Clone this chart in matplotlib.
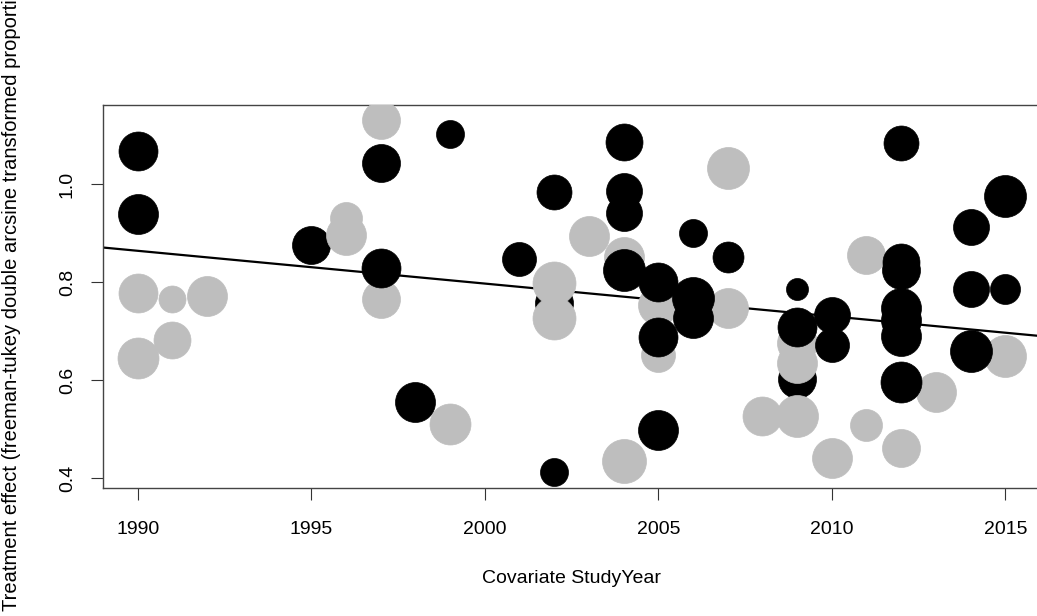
import numpy as np
import matplotlib
matplotlib.use('Agg')
import matplotlib.pyplot as plt

matplotlib.rc('font', family=['Liberation Sans', 'DejaVu Sans'])

# points listed in drawing order (later ones sit on top)
year = [2002, 2009, 1995,
        1990, 1990, 1991, 1991, 1992, 1996, 1996, 1997, 1997, 1999,
        2002, 2002, 2003, 2004, 2004, 2005, 2005, 2007, 2007, 2008,
        2009, 2009, 2009, 2010, 2011, 2011, 2012, 2013, 2015,
        1990, 1990, 1997, 1997, 1998, 1999, 2001, 2002, 2002,
        2004, 2004, 2004, 2004, 2005, 2005, 2005, 2006, 2006, 2006,
        2007, 2009, 2009, 2010, 2010, 2012, 2012, 2012, 2012, 2012,
        2012, 2012, 2014, 2014, 2014, 2015, 2015]
effect = [0.758, 0.603, 0.877,
          0.778, 0.646, 0.765, 0.682, 0.772, 0.931, 0.897, 1.131, 0.765, 0.511,
          0.799, 0.727, 0.895, 0.852, 0.435, 0.754, 0.652, 1.033, 0.748, 0.526,
          0.676, 0.635, 0.526, 0.441, 0.856, 0.509, 0.461, 0.577, 0.650,
          1.068, 0.940, 1.043, 0.830, 0.556, 1.102, 0.848, 0.984, 0.413,
          1.086, 0.987, 0.941, 0.825, 0.801, 0.688, 0.499, 0.901, 0.768, 0.727,
          0.851, 0.786, 0.709, 0.733, 0.672, 1.084, 0.841, 0.825, 0.748, 0.723,
          0.690, 0.597, 0.913, 0.786, 0.660, 0.976, 0.786]
weight = [19, 19, 19,
          19.5, 20.5, 13.5, 18.5, 20, 16, 20, 19, 19, 20.5,
          21.5, 21.5, 20, 20, 22, 20, 17, 21, 20, 19.5,
          20, 20, 21, 20, 19, 16, 19, 20, 21,
          19.5, 20, 19, 19.5, 20, 14, 17, 17.5, 14,
          18.5, 18, 18, 21, 19.5, 19.5, 20, 14, 21, 20,
          15.5, 11, 19.5, 18, 17, 17.5, 18.5, 19, 20, 20,
          20, 20.5, 18, 18, 21, 21, 15]
group = [1, 1, 1] + [0] * 29 + [1] * 36

fit_intercept = 0.871   # value at 1989
fit_slope = -0.00669

xticks = [1990, 1995, 2000, 2005, 2010, 2015]
yticks = [0.4, 0.6, 0.8, 1.0]

fig = plt.figure(figsize=(10.37, 6.16), dpi=100)
ax = fig.add_axes([103/1037, 128/616, 937/1037, 383/616])

xs = np.array([1989, 2016])
ax.plot(xs, fit_intercept + fit_slope*(xs - 1989), color='black', lw=1.6, zorder=1)

colors = ['#BEBEBE' if g == 0 else 'black' for g in group]
for i in range(len(year)):
  ax.scatter(year[i], effect[i], s=(1.44*weight[i])**2, c=colors[i],
             edgecolors=colors[i], linewidths=0.5, zorder=2+i)

ax.set_xlim(1989, 2016)
ax.set_ylim(0.380, 1.162)
ax.set_xticks(xticks)
ax.set_yticks(yticks)
ax.set_xticklabels([str(t) for t in xticks], fontsize=14)
ax.set_yticklabels(['%.1f' % t for t in yticks], fontsize=14, rotation=90, va='center')
ax.tick_params(axis='x', length=8.6, width=0.8, pad=15, color='#333333')
ax.tick_params(axis='y', length=8.6, width=0.8, pad=11, color='#333333')
for sp in ax.spines.values():
  sp.set_color('#444444')
  sp.set_linewidth(1.0)

ax.set_xlabel('Covariate StudyYear', fontsize=14, labelpad=23)
fig.text(12/1037, 1 - 290.5/616,
         'Treatment effect (freeman-tukey double arcsine transformed proportion)',
         rotation=90, ha='center', va='center', fontsize=14.5)

plt.savefig('out.png', dpi=100)
